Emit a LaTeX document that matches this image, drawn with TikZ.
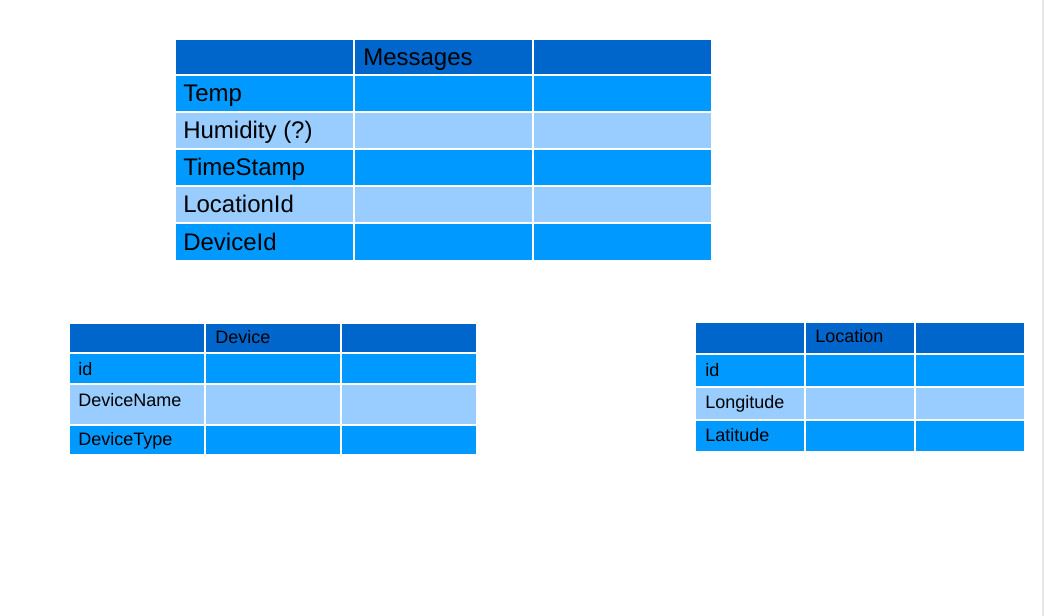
\documentclass[tikz,border=0pt]{standalone}
\usepackage{fontspec}
\setmainfont{Liberation Sans}
\definecolor{hdr}{HTML}{0066CC}
\definecolor{rowdark}{HTML}{0099FF}
\definecolor{rowlight}{HTML}{99CCFF}
\definecolor{edgegray}{HTML}{E8E8E8}
\begin{document}
\begin{tikzpicture}[x=0.75pt,y=-0.75pt,
  cell/.style={draw=white,line width=1.1pt},
  bigtxt/.style={font=\fontsize{18}{20}\selectfont,anchor=base west,inner sep=0pt},
  smalltxt/.style={font=\fontsize{13.5}{15}\selectfont,anchor=base west,inner sep=0pt}]
\useasboundingbox (0,0) rectangle (1044,616);
\fill[white] (0,0) rectangle (1044,616);
\fill[edgegray] (1042,0) rectangle (1044,616);

% Messages table
\foreach \ya/\yb/\c in {39/75/hdr,75/112/rowdark,112/149/rowlight,149/186/rowdark,186/223/rowlight,223/261/rowdark}
  \foreach \xa/\xb in {175/354,354/533,533/712}
    \filldraw[cell,fill=\c] (\xa,\ya) rectangle (\xb,\yb);
\node[bigtxt] (msg) at (363,65.5) {Messages};
\node[bigtxt] (msgtemp) at (183,102) {Temp};
\node[bigtxt] (msghum) at (183,139) {Humidity (?)};
\node[bigtxt] (msgts) at (183,176) {TimeStamp};
\node[bigtxt] (msgloc) at (183,213) {LocationId};
\node[bigtxt] (msgdev) at (183,250.5) {DeviceId};

% Device table
\foreach \ya/\yb/\c in {323/353/hdr,353/384/rowdark,384/425/rowlight,425/455/rowdark}
  \foreach \xa/\xb in {69/205,205/341,341/477}
    \filldraw[cell,fill=\c] (\xa,\ya) rectangle (\xb,\yb);
\node[smalltxt] (dev) at (215,343) {Device};
\node[smalltxt] (devid) at (78,375) {id};
\node[smalltxt] (devname) at (78,406) {DeviceName};
\node[smalltxt] (devtype) at (78,445) {DeviceType};

% Location table
\foreach \ya/\yb/\c in {322/354/hdr,354/387/rowdark,387/420/rowlight,420/452/rowdark}
  \foreach \xa/\xb in {695/805,805/915,915/1025}
    \filldraw[cell,fill=\c] (\xa,\ya) rectangle (\xb,\yb);
\node[smalltxt] (loc) at (815,342) {Location};
\node[smalltxt] (locid) at (705,376) {id};
\node[smalltxt] (loclon) at (705,408) {Longitude};
\node[smalltxt] (loclat) at (705,441) {Latitude};
\end{tikzpicture}
\end{document}
